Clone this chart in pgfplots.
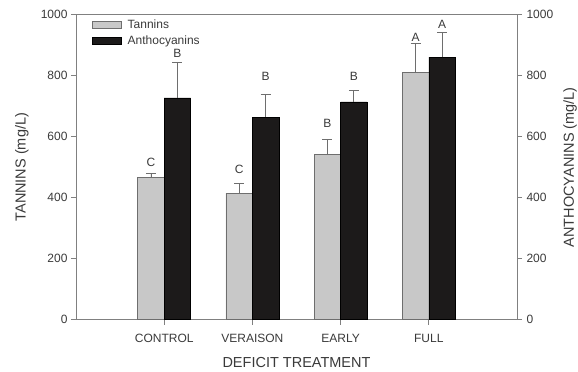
\documentclass[border=0pt]{standalone}
\usepackage{pgfplots}
\pgfplotsset{compat=1.18}
\usepackage{fontspec}
\setmainfont{Liberation Sans}

\definecolor{txt}{HTML}{3A3A3A}
\definecolor{axisgray}{HTML}{808080}
\definecolor{tanfill}{HTML}{C8C8C8}
\definecolor{tanedge}{HTML}{6E6E6E}
\definecolor{anthfill}{HTML}{1C1A1A}

\pgfplotsset{
  common/.style={
    scale only axis, width=441bp, height=305bp,
    xmin=-1, xmax=4, ymin=0, ymax=1000,
    ytick={0,200,...,1000},
    tick align=outside, major tick length=5bp,
    axis line style={axisgray, line width=0.8bp},
    tick style={axisgray, line width=0.8bp},
    every tick label/.append style={font=\fontsize{12bp}{14bp}\selectfont, text=txt},
    label style={font=\fontsize{14.5bp}{17bp}\selectfont, text=txt},
    /pgf/number format/assume math mode=true,
    /pgf/number format/1000 sep={},
  },
  barlegend/.style={
    legend image code/.code={\draw[##1] (0bp,-3.5bp) rectangle (29bp,3.5bp);}
  },
}

\begin{document}
\begin{tikzpicture}
\begin{axis}[common,
  ybar=0pt, bar width=0.3,
  xtick={0,1,2,3}, xticklabels={CONTROL,VERAISON,EARLY,FULL},
  xtick pos=left, ytick pos=left,
  xticklabel style={yshift=-6bp},
  xlabel={DEFICIT TREATMENT},
  xlabel style={at={(axis description cs:0.5,0)}, anchor=center, yshift=-43bp},
  ylabel={TANNINS (mg/L)},
  ylabel style={at={(axis description cs:0,0.5)}, anchor=center, yshift=54bp},
  legend style={at={(0.036,0.99)}, anchor=north west, draw=none, fill=none,
    font=\fontsize{12bp}{14bp}\selectfont, text=txt, inner sep=0pt,
    row sep=2bp, nodes={inner sep=2bp}},
  legend cell align=left,
  error bars/y dir=plus, error bars/y explicit,
]
% Tannins
\addplot[barlegend, fill=tanfill, draw=tanedge, line width=0.6bp,
  error bars/error bar style={tanedge, line width=0.8bp},
  error bars/error mark options={rotate=90, mark size=5bp, tanedge, line width=0.8bp}]
  coordinates {(0,467) +- (0,12) (1,415) +- (0,31) (2,541) +- (0,49) (3,811) +- (0,96)};
% Anthocyanins
\addplot[barlegend, fill=anthfill, draw=black, line width=0.6bp,
  error bars/error bar style={tanedge, line width=0.8bp},
  error bars/error mark options={rotate=90, mark size=5bp, tanedge, line width=0.8bp}]
  coordinates {(0,727) +- (0,118) (1,664) +- (0,74) (2,714) +- (0,37) (3,861) +- (0,81)};
\legend{\hspace{4bp}Tannins, \hspace{4bp}Anthocyanins}

% significance letters
\begin{scope}[every node/.style={font=\fontsize{12bp}{14bp}\selectfont, text=txt, inner sep=0pt}]
\node at (axis cs:-0.15,516) {C};
\node at (axis cs:0.15,874) {B};
\node at (axis cs:0.85,492) {C};
\node at (axis cs:1.15,797) {B};
\node at (axis cs:1.85,643) {B};
\node at (axis cs:2.15,797) {B};
\node at (axis cs:2.85,925) {A};
\node at (axis cs:3.15,967) {A};
\end{scope}
\end{axis}

\begin{axis}[common,
  axis x line=none, axis y line*=right, ytick pos=right,
  yticklabel style={xshift=1bp},
  ylabel={ANTHOCYANINS (mg/L)},
  ylabel style={at={(axis description cs:1,0.5)}, anchor=center, rotate=0, yshift=-53bp},
]
\addplot[draw=none] coordinates {(0,0)};
\end{axis}

\pgfresetboundingbox
\path[use as bounding box] (-76bp,-52bp) rectangle (502bp,319.7bp);
\end{tikzpicture}
\end{document}
